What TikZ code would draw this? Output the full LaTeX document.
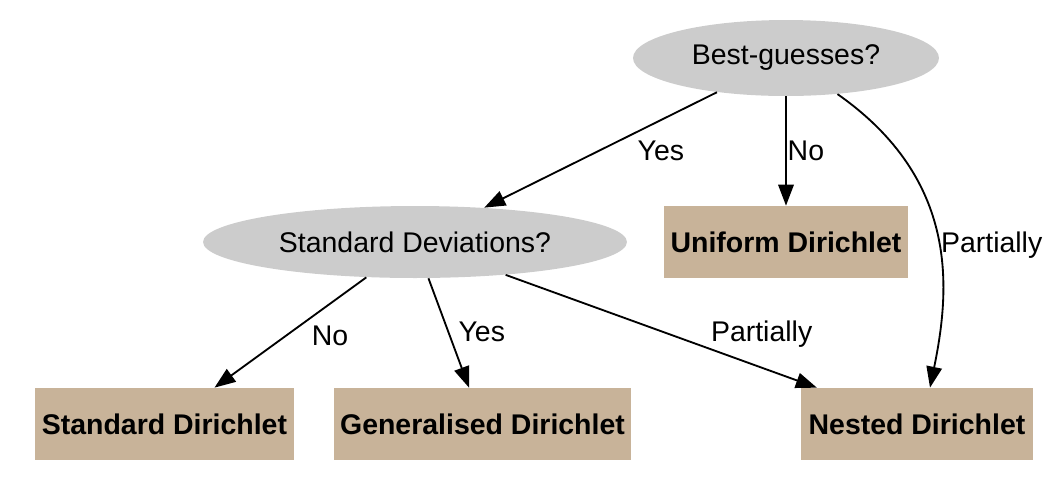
\documentclass[tikz,border=0pt]{standalone}
\usepackage{fontspec}
\setmainfont{Liberation Sans}
\usetikzlibrary{shapes.geometric,arrows.meta}
\definecolor{qgrey}{RGB}{204,204,204}
\definecolor{qtan}{RGB}{200,179,153}
\begin{document}
\begin{tikzpicture}[x=0.02cm,y=-0.02cm,
  font=\fontsize{16.2}{19}\selectfont,
  question/.style={ellipse,fill=qgrey,inner sep=0pt},
  answer/.style={rectangle,fill=qtan,inner sep=0pt,minimum height=1.44cm,font=\fontsize{16.2}{19}\selectfont\bfseries},
  edge/.style={draw=black,line width=1.05pt,-{Triangle[length=0.42cm,width=0.31cm]}},
  lbl/.style={inner sep=3pt,text=black}]
\useasboundingbox (0,0) rectangle (1059,485);
\node[question,minimum width=6.12cm,minimum height=1.52cm] (best) at (786,58) {Best-guesses?};
\node[question,minimum width=8.48cm,minimum height=1.44cm] (sd) at (415,242) {Standard Deviations?};
\node[answer,minimum width=4.88cm] (uniform) at (786,242) {Uniform Dirichlet};
\node[answer,minimum width=5.18cm] (standard) at (164.5,424) {Standard Dirichlet};
\node[answer,minimum width=5.94cm] (general) at (482.5,424) {Generalised Dirichlet};
\node[answer,minimum width=4.64cm] (nested) at (917,424) {Nested Dirichlet};
\draw[edge] (best) -- node[lbl,pos=0.35,anchor=north west,xshift=-0.08cm,yshift=-0.04cm] (l1) {Yes} (sd);
\draw[edge] (best) -- node[lbl,pos=0.5,anchor=west,xshift=-0.09cm] (l2) {No} (uniform);
\draw[edge] (best) .. controls (960,180) and (950,290) .. node[lbl,pos=0.53,anchor=west,xshift=-0.08cm] (l3) {Partially} ([xshift=0.26cm]nested.north);
\draw[edge] (sd) -- node[lbl,pos=0.38,anchor=north west,xshift=-0.06cm] (l4) {No} (standard);
\draw[edge] (sd) -- node[lbl,pos=0.49,anchor=west,xshift=0.08cm] (l5) {Yes} (general);
\draw[edge] (sd) -- node[lbl,pos=0.64,anchor=south west,yshift=-0.14cm] (l6) {Partially} (nested);
\end{tikzpicture}
\end{document}
